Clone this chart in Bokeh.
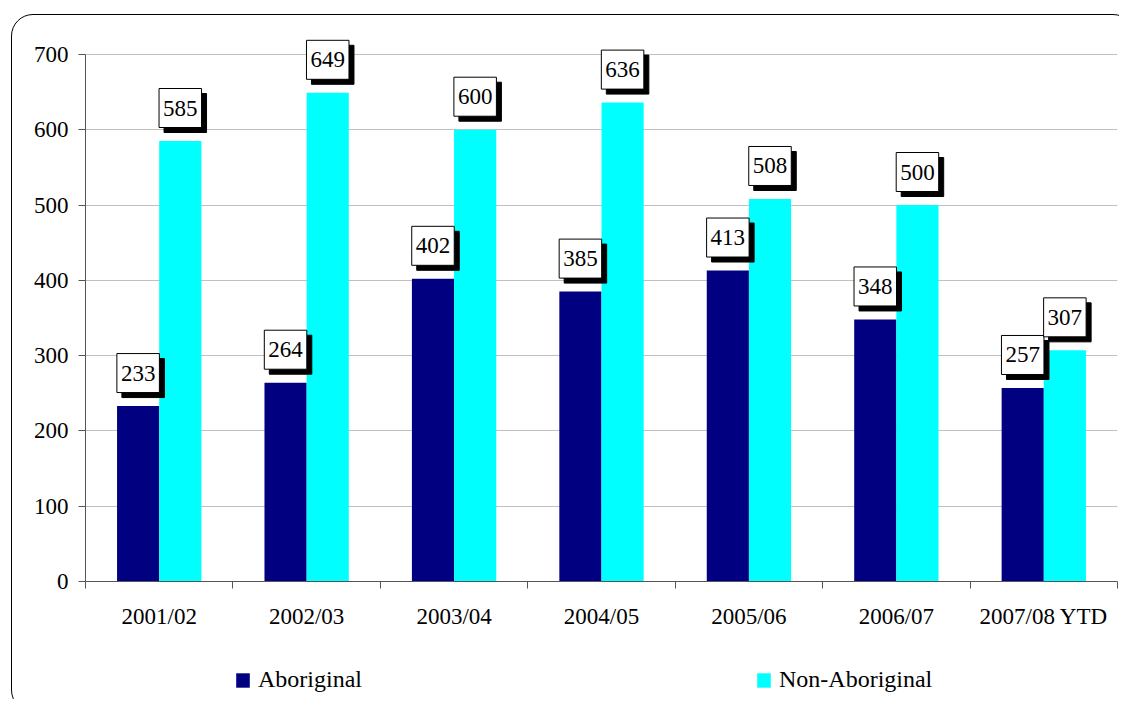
from bokeh.plotting import figure
from bokeh.layouts import column
from bokeh.models import (ColumnDataSource, Legend, LegendItem, InlineStyleSheet,
                          Range1d, FixedTicker, LinearAxis)
from bokeh.core.properties import value
from bokeh.transform import dodge
from bokeh.embed import file_html
from bokeh.resources import INLINE

years = ["2001/02", "2002/03", "2003/04", "2004/05", "2005/06", "2006/07", "2007/08 YTD"]
aboriginal = [233, 264, 402, 385, 413, 348, 257]
non_aboriginal = [585, 649, 600, 636, 508, 500, 307]
y_ticks = [0, 100, 200, 300, 400, 500, 600, 700]
series_names = ["Aboriginal", "Non-Aboriginal"]

FONT = "Liberation Serif"
FS = "23px"
NAVY = "#000080"
CYAN = "#00FFFF"
AXIS = "#555555"
W = 1119

centers = [i + 0.5 for i in range(len(years))]
edges = list(range(len(years) + 1))
src = ColumnDataSource(dict(
    xc=centers,
    ab=aboriginal,
    non=non_aboriginal,
    ab_txt=[str(v) for v in aboriginal],
    non_txt=[str(v) for v in non_aboriginal],
))

p = figure(x_range=Range1d(0, len(years)), y_range=Range1d(0, 753),
           width=W, height=650, output_backend="svg", toolbar_location=None,
           x_axis_location=None, y_axis_location=None,
           min_border_left=85, min_border_right=2, min_border_top=14, min_border_bottom=69)
p.outline_line_color = None
p.background_fill_color = None
p.border_fill_color = None

# y axis
yax = LinearAxis(ticker=FixedTicker(ticks=y_ticks), bounds=(0, 700))
yax.axis_line_color = AXIS
yax.major_tick_line_color = AXIS
yax.major_tick_out = 7
yax.major_tick_in = 0
yax.minor_tick_line_color = None
yax.major_label_text_font = FONT
yax.major_label_text_font_size = FS
yax.major_label_text_color = "black"
yax.major_label_standoff = 10
p.add_layout(yax, "left")

# x axis: labels at category centres, ticks at category edges
xax = LinearAxis(ticker=FixedTicker(ticks=centers, minor_ticks=edges),
                 major_label_overrides={c: y for c, y in zip(centers, years)})
xax.axis_line_color = AXIS
xax.major_tick_line_color = None
xax.major_tick_out = 7
xax.major_tick_in = 0
xax.minor_tick_line_color = AXIS
xax.minor_tick_out = 7
xax.minor_tick_in = 0
xax.major_label_text_font = FONT
xax.major_label_text_font_size = FS
xax.major_label_text_color = "black"
xax.major_label_standoff = 15
p.add_layout(xax, "below")

p.xgrid.visible = False
p.ygrid.ticker = FixedTicker(ticks=y_ticks)
p.ygrid.grid_line_color = "#C0C0C0"

r1 = p.vbar(x=dodge("xc", -0.143), top="ab", width=0.286,
            source=src, fill_color=NAVY, line_color=None)
r2 = p.vbar(x=dodge("xc", 0.143), top="non", width=0.286,
            source=src, fill_color=CYAN, line_color=None)

pad = dict(left=4, right=4, top=12, bottom=12)
for col, txt, off in (("ab", "ab_txt", -0.143), ("non", "non_txt", 0.143)):
    p.text(x=dodge("xc", off), y=col, text=txt, source=src,
           x_offset=5, y_offset=-28, text_align="center", text_baseline="middle",
           text_font=value(FONT), text_font_size=FS, text_color="black",
           background_fill_color="black", border_line_color="black", padding=pad)
    p.text(x=dodge("xc", off), y=col, text=txt, source=src,
           x_offset=0, y_offset=-33, text_align="center", text_baseline="middle",
           text_font=value(FONT), text_font_size=FS, text_color="black",
           background_fill_color="white", border_line_color="black",
           border_line_width=1, padding=pad)

# legend strip (its frame is aligned with the chart frame by the column layout)
pl = figure(x_range=Range1d(0, len(years)), y_range=Range1d(0, 1), width=W, height=49,
            output_backend="svg", toolbar_location=None,
            x_axis_location=None, y_axis_location=None,
            min_border_left=85, min_border_right=2, min_border_top=0, min_border_bottom=0)
pl.outline_line_color = None
pl.background_fill_color = None
pl.border_fill_color = None
pl.grid.visible = False
g1 = pl.vbar(x=[-10], top=[0], width=0.1, fill_color=NAVY, line_color=None)
g2 = pl.vbar(x=[-10], top=[0], width=0.1, fill_color=CYAN, line_color=None)
legend = Legend(items=[LegendItem(label=series_names[0], renderers=[g1]),
                       LegendItem(label=series_names[1], renderers=[g2])],
                location=(149, 6), orientation="horizontal", spacing=393,
                border_line_color=None, background_fill_alpha=0, padding=0, margin=0,
                glyph_width=17, glyph_height=18, label_text_font=FONT,
                label_text_color="black",
                label_text_font_size="24px", label_standoff=7, label_height=18)
pl.add_layout(legend, "center")

css = InlineStyleSheet(css="""
:host { overflow: hidden; position: relative; }
:host::after {
  content: ""; position: absolute; left: 11px; top: 14px;
  width: 1124px; height: 698px; box-sizing: border-box;
  border: 1.5px solid black; border-radius: 22px; pointer-events: none;
}
""")
layout = column(p, pl, spacing=0, stylesheets=[css], styles={"background": "white"})

open("out.html", "w").write(file_html(layout, INLINE))
